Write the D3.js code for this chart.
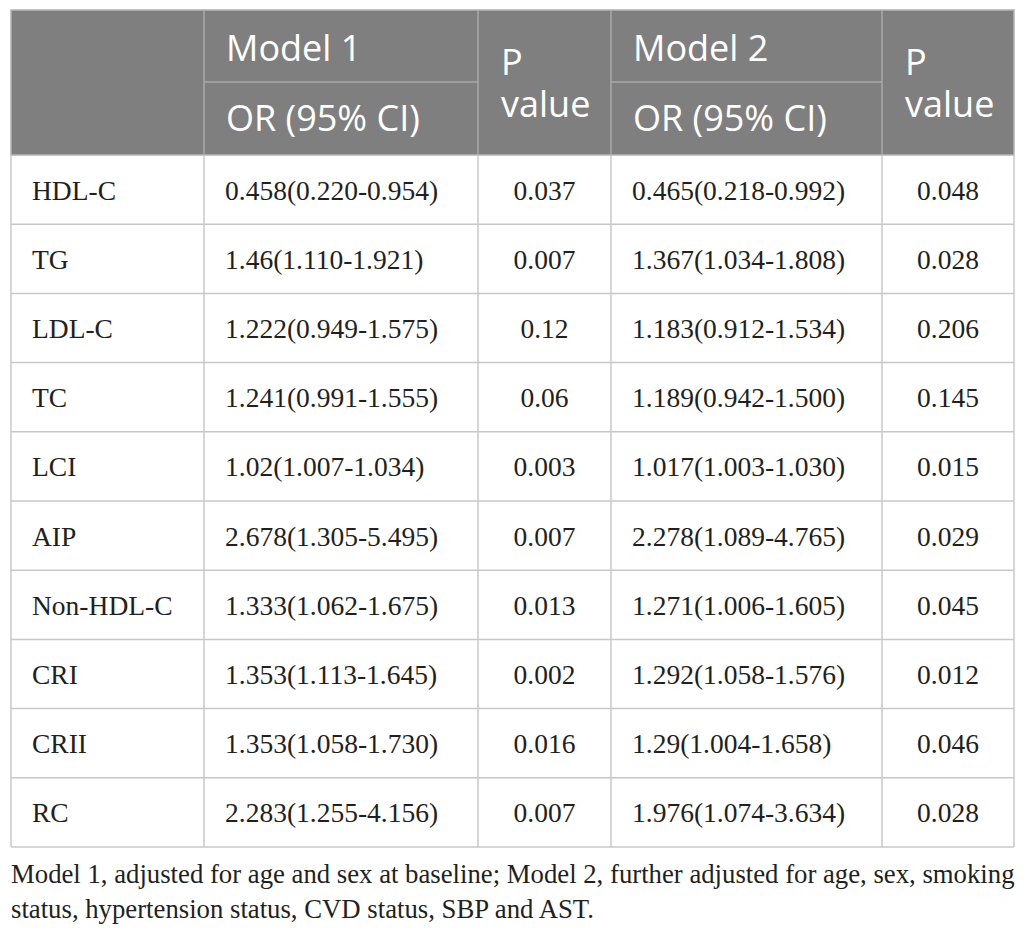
<!DOCTYPE html>
<html>
<head>
<meta charset="utf-8">
<script src="https://cdn.jsdelivr.net/npm/d3@7"></script>
<style>
  body { margin: 0; background: #fff; }
</style>
</head>
<body>
<svg id="tableSvg" width="1026" height="936"></svg>
<script>
// table contents
let rowLabels = ["HDL-C", "TG", "LDL-C", "TC", "LCI", "AIP", "Non-HDL-C", "CRI", "CRII", "RC"];
let model1OR = ["0.458(0.220-0.954)", "1.46(1.110-1.921)", "1.222(0.949-1.575)", "1.241(0.991-1.555)",
    "1.02(1.007-1.034)", "2.678(1.305-5.495)", "1.333(1.062-1.675)", "1.353(1.113-1.645)",
    "1.353(1.058-1.730)", "2.283(1.255-4.156)"];
let model1P = ["0.037", "0.007", "0.12", "0.06", "0.003", "0.007", "0.013", "0.002", "0.016", "0.007"];
let model2OR = ["0.465(0.218-0.992)", "1.367(1.034-1.808)", "1.183(0.912-1.534)", "1.189(0.942-1.500)",
    "1.017(1.003-1.030)", "2.278(1.089-4.765)", "1.271(1.006-1.605)", "1.292(1.058-1.576)",
    "1.29(1.004-1.658)", "1.976(1.074-3.634)"];
let model2P = ["0.048", "0.028", "0.206", "0.145", "0.015", "0.029", "0.045", "0.012", "0.046", "0.028"];
let modelNames = ["Model 1", "Model 2"];
let footnote = [
    "Model 1, adjusted for age and sex at baseline; Model 2, further adjusted for age, sex, smoking",
    "status, hypertension status, CVD status, SBP and AST."
];

function drawTable() {
    let canvas = d3.select("#tableSvg");

    let left = 11;
    let right = 1014;
    let top = 10;
    let headTop = 155;
    let bottom = 847;
    let headMid = 82;
    let colKeys = ["name", "or1", "p1", "or2", "p2"];
    let colWidths = [193, 274, 133, 271, 132];
    let colEdges = [left].concat(Array.from(d3.cumsum(colWidths), d => left + d));

    let x = d3.scaleOrdinal().domain(colKeys).range(colEdges.slice(0, 5));
    let w = d3.scaleOrdinal().domain(colKeys).range(colWidths);
    let y = d3.scaleBand().domain(rowLabels).range([headTop, bottom]);

    let headFont = "'Open Sans', sans-serif";
    let bodyFont = "'Liberation Serif', serif";
    let ink = "#231f20";

    // header block
    canvas.append("rect")
        .attr("x", left).attr("y", top)
        .attr("width", right - left).attr("height", headTop - top)
        .attr("fill", "#7f7f7f")
        .attr("stroke", "#b4b4b4")
        .attr("stroke-width", 1.5);

    canvas.selectAll(".headV")
        .data(colKeys.slice(1))
        .enter()
        .append("line")
        .attr("x1", d => x(d)).attr("x2", d => x(d))
        .attr("y1", top).attr("y2", headTop)
        .attr("stroke", "#a8a8a8")
        .attr("stroke-width", 1.5);

    canvas.selectAll(".headH")
        .data(["or1", "or2"])
        .enter()
        .append("line")
        .attr("x1", d => x(d)).attr("x2", d => x(d) + w(d))
        .attr("y1", headMid).attr("y2", headMid)
        .attr("stroke", "#a8a8a8")
        .attr("stroke-width", 1.5);

    let headText = canvas.append("g")
        .attr("font-family", headFont)
        .attr("font-size", 36)
        .attr("fill", "#ffffff");

    ["or1", "or2"].forEach((k, i) => {
        headText.append("text")
            .attr("x", x(k) + 22).attr("y", 61)
            .text(modelNames[i]);
        headText.append("text")
            .attr("x", x(k) + 22).attr("y", 131)
            .text("OR (95% CI)");
    });
    ["p1", "p2"].forEach(k => {
        let t = headText.append("text")
            .attr("x", x(k) + 23).attr("y", 75);
        t.append("tspan").text("P");
        t.append("tspan")
            .attr("x", x(k) + 23).attr("dy", 42)
            .text("value");
    });

    // body grid
    canvas.selectAll(".rowLine")
        .data(rowLabels)
        .enter()
        .append("line")
        .attr("x1", left).attr("x2", right)
        .attr("y1", d => y(d) + y.bandwidth()).attr("y2", d => y(d) + y.bandwidth())
        .attr("stroke", "#c8c8c8")
        .attr("stroke-width", 1.5);

    canvas.selectAll(".colLine")
        .data(colEdges)
        .enter()
        .append("line")
        .attr("x1", d => d).attr("x2", d => d)
        .attr("y1", headTop).attr("y2", bottom)
        .attr("stroke", "#c8c8c8")
        .attr("stroke-width", 1.5);

    // body text
    let rows = rowLabels.map((name, i) => ({
        name: name, or1: model1OR[i], p1: model1P[i], or2: model2OR[i], p2: model2P[i]
    }));

    let cells = canvas.append("g")
        .attr("font-family", bodyFont)
        .attr("font-size", 27.5)
        .attr("fill", ink);

    rows.forEach(r => {
        colKeys.forEach(k => {
            let centred = (k == "p1" || k == "p2");
            cells.append("text")
                .attr("x", centred ? x(k) + w(k) / 2 : x(k) + 21)
                .attr("y", y(r.name) + y.bandwidth() / 2 + 10)
                .attr("text-anchor", centred ? "middle" : "start")
                .text(r[k]);
        });
    });

    // footnote, squeezed to the table width
    let note = canvas.append("g")
        .attr("font-family", bodyFont)
        .attr("font-size", 27.5)
        .attr("fill", ink);

    let noteLines = note.selectAll("text")
        .data(footnote)
        .enter()
        .append("text")
        .attr("x", 0)
        .attr("y", (d, i) => 883 + i * 35)
        .text(d => d);

    let natural = noteLines.nodes()[0].getComputedTextLength();
    let k = (right + 1 - left) / natural;
    note.attr("transform", "translate(" + left + ",0) scale(" + k + ",1)");
}

drawTable();
</script>
</body>
</html>
